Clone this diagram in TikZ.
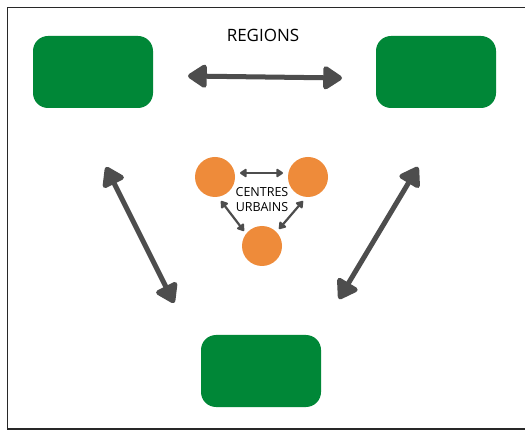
\documentclass[tikz,border=0pt]{standalone}
\usepackage{fontspec}
\setmainfont{Open Sans}
\usetikzlibrary{arrows.meta}
\definecolor{boxgreen}{RGB}{0,135,55}
\definecolor{dotorange}{RGB}{238,139,58}
\definecolor{arrowgrey}{RGB}{77,77,77}
\definecolor{framegrey}{RGB}{40,40,40}
\begin{document}
\begin{tikzpicture}[x=1pt,y=-1pt,
  region/.style={fill=boxgreen,draw=none,rounded corners=15pt,minimum width=120pt,minimum height=72pt,inner sep=0pt},
  centre/.style={circle,fill=dotorange,draw=none,minimum size=40pt,inner sep=0pt},
  bigarrow/.style={draw=arrowgrey,line width=5pt,{Triangle[length=21pt,width=26pt,round]}-{Triangle[length=21pt,width=26pt,round]}},
  smallarrow/.style={draw=arrowgrey,line width=2.2pt,{Triangle[length=7.5pt,width=9.5pt,round]}-{Triangle[length=7.5pt,width=9.5pt,round]}},
  label/.style={font=\fontsize{17}{20}\selectfont,text=black,inner sep=0pt},
  clabel/.style={font=\fontsize{12.5}{15.5}\selectfont,text=black,inner sep=0pt,align=center}
]
\useasboundingbox (0,0) rectangle (525,430);
\fill[white] (0,0) rectangle (525,430);
\draw[framegrey,line width=1.6pt] (525,7.5) -- (7.5,7.5) -- (7.5,429) -- (525,429);

\node[region] (g1) at (93,72) {};
\node[region] (g2) at (436,72) {};
\node[region] (g3) at (261,371) {};

\node[label] (title) at (263,35) {REGIONS};

\coordinate (ta1) at (188,76);
\coordinate (ta2) at (342,78);
\draw[bigarrow] (ta1) -- (ta2);

\coordinate (la1) at (106,167);
\coordinate (la2) at (174,303);
\coordinate (ra1) at (418,167);
\coordinate (ra2) at (339,299);
\draw[bigarrow] (la1) -- (la2);
\draw[bigarrow] (ra1) -- (ra2);

\node[centre] (c1) at (215,177) {};
\node[centre] (c2) at (308,177) {};
\node[centre] (c3) at (262,246) {};

\node[clabel] (ctext) at (262,199.5) {CENTRES\\URBAINS};

\coordinate (sa1) at (240,173);
\coordinate (sa2) at (283,173);
\coordinate (sb1) at (221,201);
\coordinate (sb2) at (244,231);
\coordinate (sc1) at (303,201);
\coordinate (sc2) at (279,229);
\draw[smallarrow] (sa1) -- (sa2);
\draw[smallarrow] (sb1) -- (sb2);
\draw[smallarrow] (sc1) -- (sc2);
\end{tikzpicture}
\end{document}
